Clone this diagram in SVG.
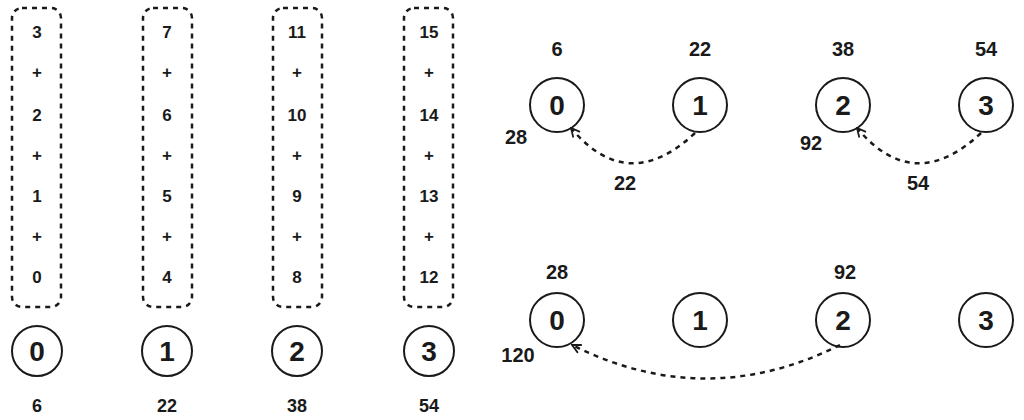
<svg xmlns="http://www.w3.org/2000/svg" width="1024" height="420" viewBox="0 0 1024 420">
<defs>
<style>
text{font-family:"Liberation Sans",Arial,sans-serif;font-weight:bold;fill:#1a1a1a;text-anchor:middle}
.c{font-size:17px}
.b{font-size:18px}
.n{font-size:28px}
.l{font-size:20px}
.box{fill:none;stroke:#1a1a1a;stroke-width:2.5;stroke-dasharray:5 5}
.circ{fill:none;stroke:#1a1a1a;stroke-width:2}
.edge{fill:none;stroke:#1a1a1a;stroke-width:2.5;stroke-dasharray:5 5}
</style>
<marker id="ah" viewBox="0 0 10 10" refX="9" refY="5" markerWidth="11" markerHeight="11" orient="auto" markerUnits="userSpaceOnUse">
<path d="M1 1 L9 5 L1 9" fill="none" stroke="#1a1a1a" stroke-width="1.6"/>
</marker>
</defs>
<rect width="1024" height="420" fill="#fff"/>

<g id="col0">
<rect class="box" x="12" y="8" width="49" height="299" rx="10"/>
<text class="c" x="37" y="38">3</text><text class="c" x="37" y="78">+</text><text class="c" x="37" y="121">2</text><text class="c" x="37" y="161">+</text><text class="c" x="37" y="202">1</text><text class="c" x="37" y="242">+</text><text class="c" x="37" y="283">0</text>
</g>
<g id="col1">
<rect class="box" x="143" y="8" width="49" height="299" rx="10"/>
<text class="c" x="167" y="38">7</text><text class="c" x="167" y="78">+</text><text class="c" x="167" y="121">6</text><text class="c" x="167" y="161">+</text><text class="c" x="167" y="202">5</text><text class="c" x="167" y="242">+</text><text class="c" x="167" y="283">4</text>
</g>
<g id="col2">
<rect class="box" x="273" y="8" width="49" height="299" rx="10"/>
<text class="c" x="297" y="38">11</text><text class="c" x="297" y="78">+</text><text class="c" x="297" y="121">10</text><text class="c" x="297" y="161">+</text><text class="c" x="297" y="202">9</text><text class="c" x="297" y="242">+</text><text class="c" x="297" y="283">8</text>
</g>
<g id="col3">
<rect class="box" x="404" y="8" width="49" height="299" rx="10"/>
<text class="c" x="429" y="38">15</text><text class="c" x="429" y="78">+</text><text class="c" x="429" y="121">14</text><text class="c" x="429" y="161">+</text><text class="c" x="429" y="202">13</text><text class="c" x="429" y="242">+</text><text class="c" x="429" y="283">12</text>
</g>

<g id="p0"><circle class="circ" cx="37" cy="351" r="25"/><text class="n" x="37" y="361">0</text><text class="b" x="37" y="412">6</text></g>
<g id="p1"><circle class="circ" cx="167" cy="351" r="25"/><text class="n" x="167" y="361">1</text><text class="b" x="167" y="412">22</text></g>
<g id="p2"><circle class="circ" cx="297" cy="351" r="25"/><text class="n" x="297" y="361">2</text><text class="b" x="297" y="412">38</text></g>
<g id="p3"><circle class="circ" cx="429" cy="351" r="25"/><text class="n" x="429" y="361">3</text><text class="b" x="429" y="412">54</text></g>

<g id="a0"><circle class="circ" cx="557" cy="105" r="27"/><text class="n" x="557" y="115">0</text><text class="l" x="557" y="56">6</text><text class="l" x="516" y="144">28</text></g>
<g id="a1"><circle class="circ" cx="700" cy="105" r="27"/><text class="n" x="700" y="115">1</text><text class="l" x="700" y="56">22</text></g>
<g id="a2"><circle class="circ" cx="843" cy="105" r="27"/><text class="n" x="843" y="115">2</text><text class="l" x="843" y="56">38</text><text class="l" x="811" y="150">92</text></g>
<g id="a3"><circle class="circ" cx="986" cy="105" r="27"/><text class="n" x="986" y="115">3</text><text class="l" x="986" y="56">54</text></g>

<g id="b0"><circle class="circ" cx="557" cy="320" r="27"/><text class="n" x="557" y="330">0</text><text class="l" x="557" y="279">28</text><text class="l" x="518" y="362">120</text></g>
<g id="b1"><circle class="circ" cx="700" cy="320" r="27"/><text class="n" x="700" y="330">1</text></g>
<g id="b2"><circle class="circ" cx="843" cy="320" r="27"/><text class="n" x="843" y="330">2</text><text class="l" x="845" y="279">92</text></g>
<g id="b3"><circle class="circ" cx="986" cy="320" r="27"/><text class="n" x="986" y="330">3</text></g>

<g id="connectors">
<path class="edge" d="M695 133 Q628 196 571 128" marker-end="url(#ah)"/>
<path class="edge" d="M981 133 Q914 196 857 128" marker-end="url(#ah)"/>
<path class="edge" d="M840 345 Q706 412 572 345" marker-end="url(#ah)"/>
<text class="l" x="625" y="190">22</text>
<text class="l" x="918" y="190">54</text>
</g>
</svg>
